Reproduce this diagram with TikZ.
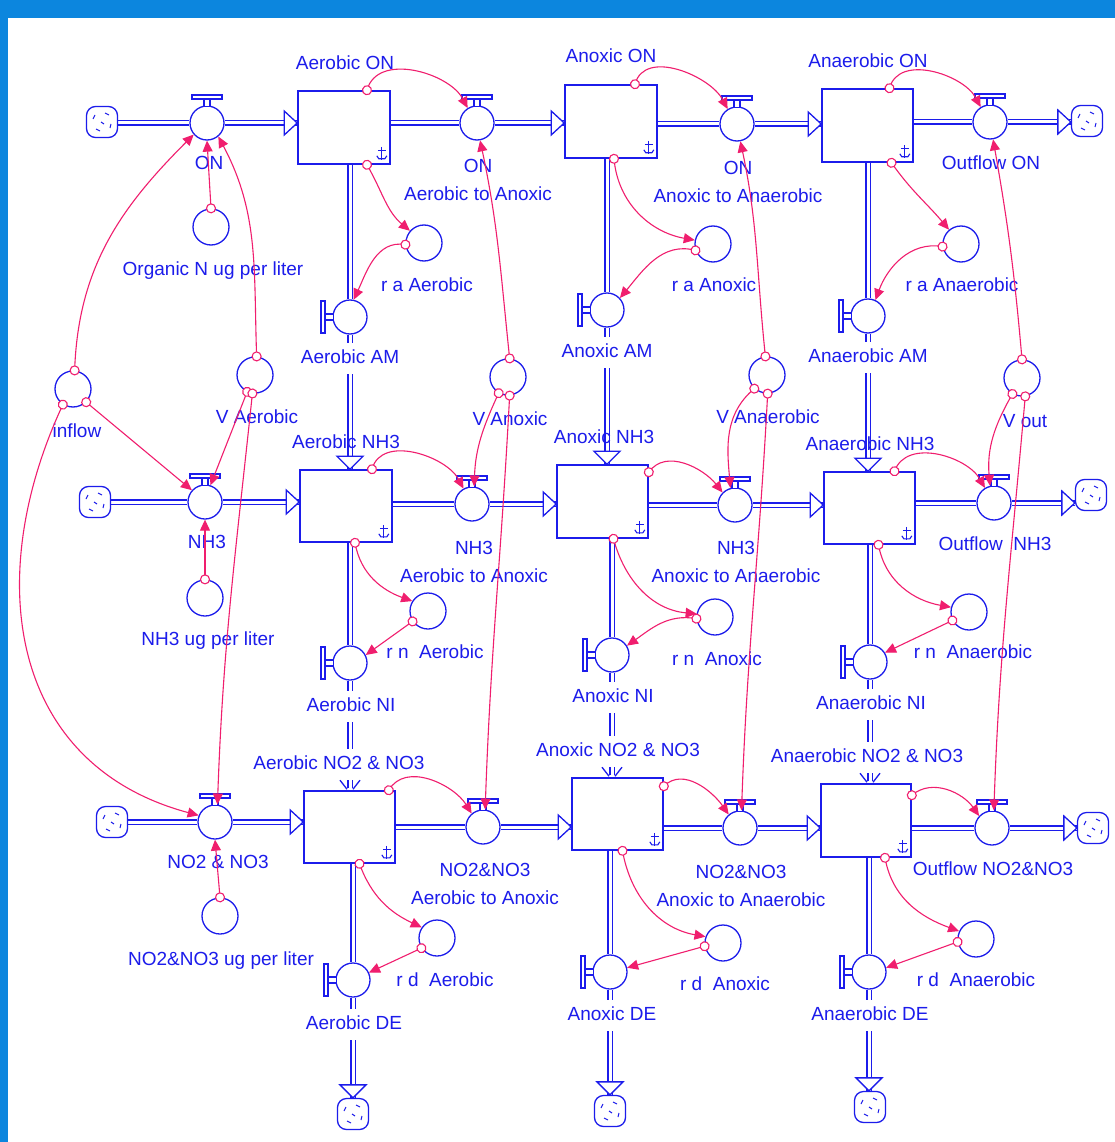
\documentclass[tikz,border=0pt]{standalone}
\usepackage{fontspec}
\setmainfont{Liberation Sans}
\usetikzlibrary{arrows.meta,calc,decorations.markings}
\pgfdeclarelayer{bg}
\pgfsetlayers{bg,main}
\definecolor{sblue}{RGB}{28,28,235}
\definecolor{lpink}{RGB}{240,30,110}
\definecolor{frameblue}{RGB}{12,134,222}
\newcommand\labfont{\fontsize{19pt}{28pt}\selectfont}
\tikzset{
 stockbox/.style={draw=sblue, line width=1.6pt, fill=white, minimum width=91pt, minimum height=73pt, inner sep=0pt},
 valve/.style={circle, draw=sblue, line width=1.3pt, fill=white, minimum size=34pt, inner sep=0pt},
 auxc/.style={circle, draw=sblue, line width=1.3pt, fill=white, minimum size=36pt, inner sep=0pt},
 cloudn/.style={draw=sblue, line width=1.3pt, fill=white, rounded corners=9pt, minimum width=31pt, minimum height=31pt, inner sep=0pt,
   path picture={
     \draw[sblue, line width=1pt] ([shift={(-9,-3)}]path picture bounding box.center) -- ++(2,-4);
     \draw[sblue, line width=1pt] ([shift={(3,-9)}]path picture bounding box.center) -- ++(4,2);
     \draw[sblue, line width=1pt] ([shift={(9,2)}]path picture bounding box.center) -- ++(-1,4);
     \draw[sblue, line width=1pt] ([shift={(-2,9)}]path picture bounding box.center) -- ++(-4,-2);
     \draw[sblue, line width=1pt] ([shift={(-1,0)}]path picture bounding box.center) -- ++(3,2);
   }},
 pipe/.style={draw=sblue, line width=1.4pt, double=white, double distance=3pt},
 ftip/.style={draw=sblue, line width=1.3pt, fill=white, line join=miter},
 handle/.style={draw=sblue, line width=1.1pt, fill=white},
 symb/.style={draw=sblue, line width=1.1pt},
 link/.style={draw=lpink, line width=1.1pt, -{Triangle[length=11pt,width=10pt]},
   postaction={decorate},
   decoration={markings, mark=at position 0 with {\draw[lpink, line width=1.1pt, fill=white] (0,0) circle (4.5pt);}}},
 lab/.style={text=sblue, font=\labfont, inner sep=1pt, text height=13.5pt, text depth=3.5pt},
 labw/.style={lab, fill=white, inner ysep=7pt},
 lab2/.style={text=sblue, font=\labfont, inner sep=1pt, align=center},
}
\newcommand\hvalve[2]{\node[valve] (#1) at (#2) {};
 \draw[handle] ([shift={(-15,-28)}]#1.center) rectangle ([shift={(15,-24)}]#1.center);
 \draw[handle] ([shift={(-3,-24)}]#1.center) rectangle ([shift={(3,-16.5)}]#1.center);}
\newcommand\vvalve[2]{\node[valve] (#1) at (#2) {};
 \draw[handle] ([shift={(-29,-16)}]#1.center) rectangle ([shift={(-25,16)}]#1.center);
 \draw[handle] ([shift={(-25,-3)}]#1.center) rectangle ([shift={(-16.5,3)}]#1.center);}
\newcommand\stocksym[1]{%
 \draw[symb] ([shift={(-9,-18)}]#1.south east) -- ([shift={(-9,-5)}]#1.south east);
 \draw[symb] ([shift={(-13,-14)}]#1.south east) -- ([shift={(-5,-14)}]#1.south east);
 \draw[symb] ([shift={(-14,-9)}]#1.south east) -- ([shift={(-12,-6)}]#1.south east) -- ([shift={(-6,-6)}]#1.south east) -- ([shift={(-4,-9)}]#1.south east);}
\begin{document}
\begin{tikzpicture}[x=1pt,y=-1pt]
\useasboundingbox (0,0) rectangle (1115,1142);
\begin{pgfonlayer}{bg}
\fill[white] (0,0) rectangle (1115,1142);
\fill[frameblue] (0,0) rectangle (1115,18);
\fill[frameblue] (0,0) rectangle (8,1142);
\end{pgfonlayer}

% stocks
\node[stockbox, minimum width=92pt] (sAON) at (344,127.5) {};
\node[stockbox, minimum width=92pt] (sXON) at (611,121.5) {};
\node[stockbox] (sNON) at (867.5,125.5) {};
\node[stockbox, minimum width=92pt, minimum height=72pt] (sANH) at (346,506) {};
\node[stockbox] (sXNH) at (602.5,501.5) {};
\node[stockbox, minimum height=72pt] (sNNH) at (869.5,508) {};
\node[stockbox, minimum height=72pt] (sANO) at (349.5,827) {};
\node[stockbox, minimum height=72pt] (sXNO) at (617.5,814) {};
\node[stockbox, minimum width=90pt] (sNNO) at (866,820.5) {};
\foreach \s in {sAON,sXON,sNON,sANH,sXNH,sNNH,sANO,sXNO,sNNO} {\stocksym{\s}}

% clouds
\node[cloudn] (k1s) at (102,122) {};
\node[cloudn] (k1e) at (1087,121) {};
\node[cloudn] (k2s) at (95,502) {};
\node[cloudn] (k2e) at (1091,495) {};
\node[cloudn] (k3s) at (112,822) {};
\node[cloudn] (k3e) at (1093,828) {};
\node[cloudn] (kA) at (353,1114) {};
\node[cloudn] (kX) at (610,1111) {};
\node[cloudn] (kN) at (870,1107) {};

% valves
\hvalve{vON}{207,123}
\hvalve{vAtoX1}{477,123}
\hvalve{vXtoN1}{737,124}
\hvalve{vOut1}{990,122}
\hvalve{vNH3}{205,502}
\hvalve{vAtoX2}{472,504}
\hvalve{vXtoN2}{735,505}
\hvalve{vOut2}{994,503}
\hvalve{vNO}{215,822}
\hvalve{vAtoX3}{483,827}
\hvalve{vXtoN3}{740,828}
\hvalve{vOut3}{992,828}
\vvalve{vAM}{350,317}
\vvalve{vXAM}{607,310}
\vvalve{vNAM}{868,316}
\vvalve{vANI}{350,663}
\vvalve{vXNI}{612,655}
\vvalve{vNNI}{870,662}
\vvalve{vADE}{353,980}
\vvalve{vXDE}{610,972}
\vvalve{vNDE}{869,972}

% auxiliaries
\node[auxc] (aOrg) at (211,227) {};
\node[auxc] (aRaA) at (424,243) {};
\node[auxc] (aRaX) at (713,244) {};
\node[auxc] (aRaN) at (961,244) {};
\node[auxc] (aIn) at (73,389) {};
\node[auxc] (aVAe) at (255,375) {};
\node[auxc] (aVAx) at (508,377) {};
\node[auxc] (aVAn) at (767,375) {};
\node[auxc] (aVOut) at (1022,378) {};
\node[auxc] (aNHug) at (205,598) {};
\node[auxc] (aRnA) at (428,611) {};
\node[auxc] (aRnX) at (715,617) {};
\node[auxc] (aRnN) at (969,612) {};
\node[auxc] (aNOug) at (220,916) {};
\node[auxc] (aRdA) at (437,938) {};
\node[auxc] (aRdX) at (723,943) {};
\node[auxc] (aRdN) at (976,939) {};

% tip coordinates
\coordinate (t1) at (vON -| sAON.west);
\coordinate (t2) at (vAtoX1 -| sXON.west);
\coordinate (t3) at (vXtoN1 -| sNON.west);
\coordinate (t4) at (vOut1 -| k1e.west);
\coordinate (t5) at (vNH3 -| sANH.west);
\coordinate (t6) at (vAtoX2 -| sXNH.west);
\coordinate (t7) at (vXtoN2 -| sNNH.west);
\coordinate (t8) at (vOut2 -| k2e.west);
\coordinate (t9) at (vNO -| sANO.west);
\coordinate (t10) at (vAtoX3 -| sXNO.west);
\coordinate (t11) at (vXtoN3 -| sNNO.west);
\coordinate (t12) at (vOut3 -| k3e.west);
\coordinate (d1) at (vAM |- sANH.north);
\coordinate (d2) at (vXAM |- sXNH.north);
\coordinate (d3) at (vNAM |- sNNH.north);
\coordinate (d4) at (vADE |- kA.north);
\coordinate (d5) at (vXDE |- kX.north);
\coordinate (d6) at (vNDE |- kN.north);
\coordinate (p1) at (vANI |- sANO.north);
\coordinate (p2) at (vXNI |- sXNO.north);
\coordinate (p3) at (vNNI |- sNNO.north);

\begin{pgfonlayer}{bg}
\draw[pipe] (k1s.east |- vON) -- (vON.west);
\draw[pipe] (vON.east) -- (t1);
\draw[pipe] (sAON.east |- vAtoX1) -- (vAtoX1.west);
\draw[pipe] (vAtoX1.east) -- (t2);
\draw[pipe] (sXON.east |- vXtoN1) -- (vXtoN1.west);
\draw[pipe] (vXtoN1.east) -- (t3);
\draw[pipe] (sNON.east |- vOut1) -- (vOut1.west);
\draw[pipe] (vOut1.east) -- (t4);
\draw[pipe] (k2s.east |- vNH3) -- (vNH3.west);
\draw[pipe] (vNH3.east) -- (t5);
\draw[pipe] (sANH.east |- vAtoX2) -- (vAtoX2.west);
\draw[pipe] (vAtoX2.east) -- (t6);
\draw[pipe] (sXNH.east |- vXtoN2) -- (vXtoN2.west);
\draw[pipe] (vXtoN2.east) -- (t7);
\draw[pipe] (sNNH.east |- vOut2) -- (vOut2.west);
\draw[pipe] (vOut2.east) -- (t8);
\draw[pipe] (k3s.east |- vNO) -- (vNO.west);
\draw[pipe] (vNO.east) -- (t9);
\draw[pipe] (sANO.east |- vAtoX3) -- (vAtoX3.west);
\draw[pipe] (vAtoX3.east) -- (t10);
\draw[pipe] (sXNO.east |- vXtoN3) -- (vXtoN3.west);
\draw[pipe] (vXtoN3.east) -- (t11);
\draw[pipe] (sNNO.east |- vOut3) -- (vOut3.west);
\draw[pipe] (vOut3.east) -- (t12);
\draw[pipe] (vAM |- sAON.south) -- (vAM.north);
\draw[pipe] (vAM.south) -- (d1);
\draw[pipe] (vXAM |- sXON.south) -- (vXAM.north);
\draw[pipe] (vXAM.south) -- (d2);
\draw[pipe] (vNAM |- sNON.south) -- (vNAM.north);
\draw[pipe] (vNAM.south) -- (d3);
\draw[pipe] (vANI |- sANH.south) -- (vANI.north);
\draw[pipe] (vANI.south) -- ([shift={(0,-2)}]p1);
\draw[pipe] (vXNI |- sXNH.south) -- (vXNI.north);
\draw[pipe] (vXNI.south) -- ([shift={(0,-2)}]p2);
\draw[pipe] (vNNI |- sNNH.south) -- (vNNI.north);
\draw[pipe] (vNNI.south) -- ([shift={(0,-2)}]p3);
\draw[pipe] (vADE |- sANO.south) -- (vADE.north);
\draw[pipe] (vADE.south) -- (d4);
\draw[pipe] (vXDE |- sXNO.south) -- (vXDE.north);
\draw[pipe] (vXDE.south) -- (d5);
\draw[pipe] (vNDE |- sNNO.south) -- (vNDE.north);
\draw[pipe] (vNDE.south) -- (d6);
\end{pgfonlayer}

% flow tips
\foreach \t in {t1,t2,t3,t4,t5,t6,t7,t8,t9,t10,t11,t12}
  {\draw[ftip] (\t) -- ([shift={(-13,-12)}]\t) -- ([shift={(-13,12)}]\t) -- cycle;}
\foreach \t in {d1,d2,d3,d4,d5,d6}
  {\draw[ftip] (\t) -- ([shift={(-13,-13)}]\t) -- ([shift={(13,-13)}]\t) -- cycle;}

% labels
\node[lab] (l01) at (345,65) {Aerobic ON};
\node[lab] (l02) at (611,58) {Anoxic ON};
\node[lab] (l03) at (868,63) {Anaerobic ON};
\node[lab] (l04) at (209,165) {ON};
\node[lab2] (l05) at (478,180) {ON\\Aerobic to Anoxic};
\node[lab2] (l06) at (738,182) {ON\\Anoxic to Anaerobic};
\node[lab] (l07) at (991,165) {Outflow ON};
\node[lab] (l08) at (213,270) {Organic N ug per liter};
\node[lab] (l09) at (427,286) {r a Aerobic};
\node[lab] (l10) at (714,286) {r a Anoxic};
\node[lab] (l11) at (962,286) {r a Anaerobic};
\node[labw] (l12) at (350,358) {Aerobic AM};
\node[labw] (l13) at (607,352) {Anoxic AM};
\node[labw] (l14) at (868,357) {Anaerobic AM};
\node[lab] (l15) at (77,432) {inflow};
\node[lab] (l16) at (257,418) {V Aerobic};
\node[lab] (l17) at (510,420) {V Anoxic};
\node[lab] (l18) at (768,418) {V Anaerobic};
\node[lab] (l19) at (1025,422) {V out};
\node[lab] (l20) at (346,443) {Aerobic NH3};
\node[lab] (l21) at (604,438) {Anoxic NH3};
\node[lab] (l22) at (870,445) {Anaerobic NH3};
\node[lab] (l23) at (207,543) {NH3};
\node[lab] (l24) at (208,640) {NH3 ug per liter};
\node[lab2] (l25) at (474,562) {NH3\\Aerobic to Anoxic};
\node[lab2] (l26) at (736,562) {NH3\\Anoxic to Anaerobic};
\node[lab] (l27) at (995,545) {Outflow~~NH3};
\node[lab] (l28) at (435,653) {r n~~Aerobic};
\node[lab] (l29) at (717,660) {r n~~Anoxic};
\node[lab] (l30) at (973,653) {r n~~Anaerobic};
\node[labw] (l31) at (351,706) {Aerobic NI};
\node[labw] (l32) at (613,697) {Anoxic NI};
\node[labw] (l33) at (871,704) {Anaerobic NI};
\node[labw] (l34) at (339,764) {Aerobic NO2 \& NO3};
\node[labw] (l35) at (618,751) {Anoxic NO2 \& NO3};
\node[labw] (l36) at (867,757) {Anaerobic NO2 \& NO3};
\node[lab] (l37) at (218,863) {NO2 \& NO3};
\node[lab] (l38) at (221,960) {NO2\&NO3 ug per liter};
\node[lab2] (l39) at (485,884) {NO2\&NO3\\Aerobic to Anoxic};
\node[lab2] (l40) at (741,886) {NO2\&NO3\\Anoxic to Anaerobic};
\node[lab] (l41) at (993,870) {Outflow NO2\&NO3};
\node[lab] (l42) at (445,981) {r d~~Aerobic};
\node[lab] (l43) at (725,985) {r d~~Anoxic};
\node[lab] (l44) at (976,981) {r d~~Anaerobic};
\node[labw] (l45) at (354,1024) {Aerobic DE};
\node[labw] (l46) at (612,1015) {Anoxic DE};
\node[labw] (l47) at (870,1015) {Anaerobic DE};

% open V marks where the NI flows enter the NO2 & NO3 stocks
\foreach \p in {p1,p2,p3}
  {\draw[symb, line width=1.3pt] ([shift={(-10,-10)}]\p) -- ([shift={(-3,-1)}]\p);
   \draw[symb, line width=1.3pt] ([shift={(10,-10)}]\p) -- ([shift={(3,-1)}]\p);}

% connectors
\draw[link] ([shift={(23,0)}]sAON.north) to[out=75,in=118] (vAtoX1.122);
\draw[link] ([shift={(24,0)}]sXON.north) to[out=75,in=118] (vXtoN1.122);
\draw[link] ([shift={(22,0)}]sNON.north) to[out=75,in=118] (vOut1.122);
\draw[link] ([shift={(23,0)}]sAON.south) to[out=-60,in=140] (aRaA.139);
\draw[link] (aRaA.185) to[out=170,in=65] (vAM.78);
\draw[link] ([shift={(3,0)}]sXON.south) to[out=-85,in=170] (aRaX.168);
\draw[link] (aRaX.200) to[out=165,in=50] (vXAM.43);
\draw[link] ([shift={(24,0)}]sNON.south) to[out=-55,in=130] (aRaN.130);
\draw[link] (aRaN.188) to[out=170,in=70] (vNAM.65);
\draw[link] (aOrg.north) -- (vON.south);
\draw[link] (aIn.85) to[out=88,in=225] (vON.221);
\draw[link] (aVAe.85) to[out=92,in=-62] (vON.-50);
\draw[link] (aIn.-45) -- (vNH3.138);
\draw[link] (aVAe.245) -- (vNH3.72);
\draw[link] (aNHug.north) -- (vNH3.south);
\draw[link] (aVAe.262) to[out=-96,in=88] (vNO.82);
\draw[link] (aIn.237) to[out=-115,in=165,looseness=1.15] (vNO.158);
\draw[link] ([shift={(26,0)}]sANH.north) to[out=75,in=118] (vAtoX2.119);
\draw[link] (aVAx.240) to[out=-115,in=88] (vAtoX2.83);
\draw[link] (aVAx.85) to[out=96,in=-78] (vAtoX1.-80);
\draw[link] (aVAx.275) to[out=-93,in=88] (vAtoX3.83);
\draw[link] ([shift={(0,8)}]sXNH.north east) to[out=55,in=128] (vXtoN2.135);
\draw[link] (aVAn.227) to[out=-140,in=95] (vXtoN2.105);
\draw[link] (aVAn.95) to[out=96,in=-78] (vXtoN1.-79);
\draw[link] (aVAn.272) to[out=-93,in=88] (vXtoN3.85);
\draw[link] ([shift={(25,0)}]sNNH.north) to[out=70,in=120] (vOut2.121);
\draw[link] (aVOut.239) to[out=-120,in=95] (vOut2.103);
\draw[link] (aVOut.90) to[out=95,in=-80] (vOut1.-80);
\draw[link] (aVOut.280) to[out=-95,in=88] (vOut3.84);
\draw[link] ([shift={(9,0)}]sANH.south) to[out=-80,in=160] (aRnA.148);
\draw[link] (aRnA.214) -- (vANI.27);
\draw[link] ([shift={(11,0)}]sXNH.south) to[out=-75,in=175] (aRnX.170);
\draw[link] (aRnX.185) to[out=170,in=35] (vXNI.32);
\draw[link] ([shift={(9,0)}]sNNH.south) to[out=-80,in=170] (aRnN.165);
\draw[link] (aRnN.207) -- (vNNI.32);
\draw[link] ([shift={(-7,0)}]sANO.north east) to[out=60,in=122] (vAtoX3.130);
\draw[link] ([shift={(0,9)}]sXNO.north east) to[out=45,in=125] (vXtoN3.130);
\draw[link] ([shift={(0,12)}]sNNO.north east) to[out=40,in=125] (vOut3.137);
\draw[link] (aNOug.north) -- (vNO.south);
\draw[link] ([shift={(10,0)}]sANO.south) to[out=-70,in=155] (aRdA.145);
\draw[link] (aRdA.213) -- (vADE.25);
\draw[link] ([shift={(5,0)}]sXNO.south) to[out=-80,in=170] (aRdX.160);
\draw[link] (aRdX.190) -- (vXDE.14);
\draw[link] ([shift={(19,0)}]sNNO.south) to[out=-80,in=160] (aRdN.155);
\draw[link] (aRdN.189) -- (vNDE.14);
\end{tikzpicture}
\end{document}
